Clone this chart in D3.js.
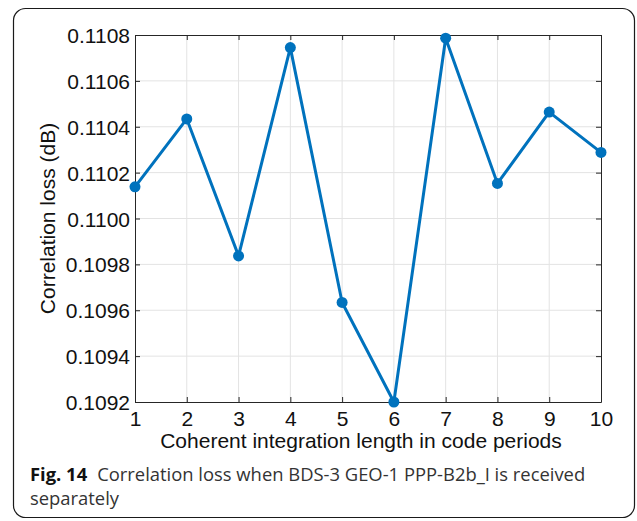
<!DOCTYPE html>
<html>
<head>
<meta charset="utf-8">
<script src="https://cdn.jsdelivr.net/npm/d3@7"></script>
<style>
  html, body { margin: 0; padding: 0; background: #fff; }
  svg { display: block; }
</style>
</head>
<body>
<svg id="chart" width="637" height="521"></svg>
<script>
// Coherent integration length (code periods) and correlation loss (dB)
const lengths = [1, 2, 3, 4, 5, 6, 7, 8, 9, 10];
const lossDb = [0.110138, 0.110434, 0.109837, 0.110745, 0.109634, 0.109200, 0.110786, 0.110153, 0.110464, 0.110288];
const yTicks = [0.1092, 0.1094, 0.1096, 0.1098, 0.1100, 0.1102, 0.1104, 0.1106, 0.1108];
const xTicks = [1, 2, 3, 4, 5, 6, 7, 8, 9, 10];

const svg = d3.select("#chart");
const plot = { left: 135, right: 601, top: 35, bottom: 402 };
const lineColor = "#0072BD";
const axisColor = "#262626";
const gridColor = "#e3e3e3";
const axisFont = "Liberation Sans, Arial, Helvetica, sans-serif";
const axisFontSize = 21;

// outer figure frame
svg.append("rect")
  .attr("x", 13.5).attr("y", 8.5)
  .attr("width", 621).attr("height", 509)
  .attr("rx", 12).attr("ry", 12)
  .attr("fill", "none").attr("stroke", "#1a1a1a").attr("stroke-width", 1.2);

const x = d3.scaleLinear().domain([1, 10]).range([plot.left, plot.right]);
const y = d3.scaleLinear().domain([0.1092, 0.1108]).range([plot.bottom, plot.top]);

// grid lines
const grid = svg.append("g");
grid.selectAll("line.gx").data(xTicks.slice(1, -1)).join("line")
  .attr("x1", d => x(d)).attr("x2", d => x(d))
  .attr("y1", plot.top).attr("y2", plot.bottom)
  .attr("stroke", gridColor).attr("stroke-width", 1);
grid.selectAll("line.gy").data(yTicks.slice(1, -1)).join("line")
  .attr("y1", d => y(d)).attr("y2", d => y(d))
  .attr("x1", plot.left).attr("x2", plot.right)
  .attr("stroke", gridColor).attr("stroke-width", 1);

// axes with inward ticks on all four sides
const tickLen = 5;
const bottomAxis = svg.append("g").attr("transform", `translate(0,${plot.bottom})`)
  .call(d3.axisBottom(x).tickValues(xTicks).tickFormat(d3.format("d")).tickSizeInner(-tickLen).tickSizeOuter(0).tickPadding(9));
const topAxis = svg.append("g").attr("transform", `translate(0,${plot.top})`)
  .call(d3.axisTop(x).tickValues(xTicks).tickFormat("").tickSizeInner(-tickLen).tickSizeOuter(0));
const leftAxis = svg.append("g").attr("transform", `translate(${plot.left},0)`)
  .call(d3.axisLeft(y).tickValues(yTicks).tickFormat(d3.format(".4f")).tickSizeInner(-tickLen).tickSizeOuter(0).tickPadding(5));
const rightAxis = svg.append("g").attr("transform", `translate(${plot.right},0)`)
  .call(d3.axisRight(y).tickValues(yTicks).tickFormat("").tickSizeInner(-tickLen).tickSizeOuter(0));

[bottomAxis, topAxis, leftAxis, rightAxis].forEach(g => {
  g.select(".domain").attr("stroke", axisColor).attr("stroke-width", 1);
  g.selectAll(".tick line").attr("stroke", axisColor).attr("stroke-width", 1);
  g.selectAll(".tick text").attr("fill", "#111").attr("font-family", axisFont).attr("font-size", axisFontSize);
});
bottomAxis.selectAll(".tick text").attr("dy", "0.71em");
leftAxis.selectAll(".tick text").attr("dy", "0.36em");

// data line and markers
const line = d3.line().x((d, i) => x(lengths[i])).y(d => y(d));
svg.append("path").datum(lossDb)
  .attr("d", line)
  .attr("fill", "none").attr("stroke", lineColor)
  .attr("stroke-width", 3).attr("stroke-linejoin", "round");
svg.selectAll("circle.pt").data(lossDb).join("circle")
  .attr("class", "pt")
  .attr("cx", (d, i) => x(lengths[i])).attr("cy", d => y(d))
  .attr("r", 5.5).attr("fill", lineColor);

// axis titles
svg.append("text")
  .attr("x", 361).attr("y", 448)
  .attr("text-anchor", "middle")
  .attr("font-family", axisFont).attr("font-size", axisFontSize).attr("fill", "#111")
  .text("Coherent integration length in code periods");
svg.append("text")
  .attr("transform", `translate(55,${(plot.top + plot.bottom) / 2}) rotate(-90)`)
  .attr("text-anchor", "middle")
  .attr("font-family", axisFont).attr("font-size", axisFontSize).attr("fill", "#111")
  .text("Correlation loss (dB)");

// figure caption
const captionFont = "Open Sans, Noto Sans, sans-serif";
const captionSize = 18.4;
const cap = svg.append("text")
  .attr("x", 30).attr("y", 481)
  .attr("font-family", captionFont).attr("font-size", captionSize).attr("fill", "#333");
cap.append("tspan").attr("font-weight", "bold").attr("fill", "#111").text("Fig. 14");
cap.append("tspan").attr("dx", 10).text("Correlation loss when BDS-3 GEO-1 PPP-B2b_I is received");
svg.append("text")
  .attr("x", 30).attr("y", 505)
  .attr("font-family", captionFont).attr("font-size", captionSize).attr("fill", "#333")
  .text("separately");
</script>
</body>
</html>
